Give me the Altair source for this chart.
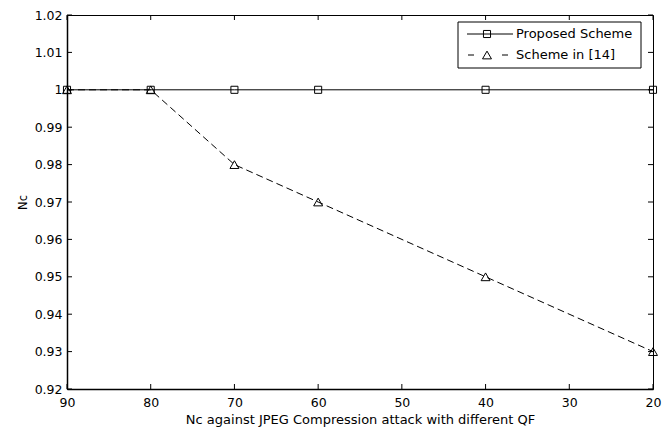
import altair as alt
import pandas as pd

qf = [90, 80, 70, 60, 40, 20]
proposed = [1.0, 1.0, 1.0, 1.0, 1.0, 1.0]
scheme14 = [1.0, 1.0, 0.98, 0.97, 0.95, 0.93]
x_ticks = [90, 80, 70, 60, 50, 40, 30, 20]
y_ticks = [0.92, 0.93, 0.94, 0.95, 0.96, 0.97, 0.98, 0.99, 1.0, 1.01, 1.02]
series_names = ["Proposed Scheme", "Scheme in [14]"]
x_title = "Nc against JPEG Compression attack with different QF"
y_title = "Nc"

FONT = "DejaVu Sans"
W, H = 586, 374

xs = alt.Scale(domain=[20, 90], reverse=True, nice=False, zero=False)
ys = alt.Scale(domain=[0.92, 1.02], nice=False, zero=False)

df_p = pd.DataFrame({"qf": qf, "nc": proposed})
df_s = pd.DataFrame({"qf": qf, "nc": scheme14})

x_axis = alt.Axis(values=x_ticks, tickSize=0, domain=True, domainColor="black",
                  domainWidth=1.5, grid=False,
                  labelPadding=7, title=x_title, titlePadding=5,
                  labelFontSize=12.5, titleFontSize=13, labelColor="black",
                  titleColor="black", titleFontWeight="normal",
                  labelFont=FONT, titleFont=FONT, labelFlush=False)
y_axis = alt.Axis(values=y_ticks, tickSize=0, domain=True, domainColor="black",
                  domainWidth=1.5, grid=False,
                  labelPadding=5, title=y_title, titlePadding=6,
                  labelFontSize=12.5, titleFontSize=11.5, labelColor="black",
                  titleColor="black", titleFontWeight="normal",
                  labelFont=FONT, titleFont=FONT, labelFlush=False,
                  labelExpr="datum.value == 1 ? '1' : format(datum.value, '.2f')")

X = alt.X("qf:Q", scale=xs, axis=x_axis)
Y = alt.Y("nc:Q", scale=ys, axis=y_axis)

line_p = alt.Chart(df_p).mark_line(color="black", strokeWidth=1).encode(x=X, y=Y)
pts_p = alt.Chart(df_p).mark_point(shape="square", size=50, filled=False,
                                   color="black", strokeWidth=1, opacity=1).encode(x=X, y=Y)
line_s = alt.Chart(df_s).mark_line(color="black", strokeWidth=1, strokeDash=[7, 4]).encode(x=X, y=Y)
pts_s = alt.Chart(df_s).mark_point(shape="triangle-up", size=80, filled=False,
                                   color="black", strokeWidth=1, opacity=1).encode(x=X, y=Y)

xt = pd.DataFrame({"qf": x_ticks})
yt = pd.DataFrame({"nc": y_ticks})
tick_b = alt.Chart(xt).mark_rule(color="black", strokeWidth=1).encode(
    x=X, y=alt.value(H), y2=alt.value(H - 5))
tick_t = alt.Chart(xt).mark_rule(color="black", strokeWidth=1).encode(
    x=X, y=alt.value(0), y2=alt.value(5))
tick_l = alt.Chart(yt).mark_rule(color="black", strokeWidth=1).encode(
    y=Y, x=alt.value(0), x2=alt.value(5))
tick_r = alt.Chart(yt).mark_rule(color="black", strokeWidth=1).encode(
    y=Y, x=alt.value(W), x2=alt.value(W - 5))

# legend
one = pd.DataFrame({"k": [0]})
leg_box = alt.Chart(one).mark_rect(fill="white", stroke="black", strokeWidth=1).encode(
    x=alt.value(391), x2=alt.value(574), y=alt.value(7), y2=alt.value(53))
leg_l1 = alt.Chart(one).mark_rule(color="black", strokeWidth=1).encode(
    x=alt.value(400), x2=alt.value(446), y=alt.value(19))
leg_p1 = alt.Chart(one).mark_point(shape="square", size=50, filled=False, color="black",
                                   strokeWidth=1, opacity=1).encode(
    x=alt.value(420), y=alt.value(19))
leg_l2a = alt.Chart(one).mark_rule(color="black", strokeWidth=1).encode(
    x=alt.value(401), x2=alt.value(407), y=alt.value(40))
leg_l2b = alt.Chart(one).mark_rule(color="black", strokeWidth=1).encode(
    x=alt.value(435), x2=alt.value(441), y=alt.value(40))
leg_p2 = alt.Chart(one).mark_point(shape="triangle-up", size=80, filled=False, color="black",
                                   strokeWidth=1, opacity=1).encode(
    x=alt.value(420), y=alt.value(40))
leg_t1 = alt.Chart(one).mark_text(
    align="left", baseline="middle", font=FONT, fontSize=13, color="black",
    text=series_names[0]).encode(x=alt.value(449), y=alt.value(19))
leg_t2 = alt.Chart(one).mark_text(
    align="left", baseline="middle", font=FONT, fontSize=13, color="black",
    text=series_names[1]).encode(x=alt.value(449), y=alt.value(40))

chart = alt.layer(
    line_p, line_s, pts_p, pts_s, tick_b, tick_t, tick_l, tick_r,
    leg_box, leg_l1, leg_p1, leg_l2a, leg_l2b, leg_p2, leg_t1, leg_t2,
).properties(
    width=W, height=H,
    padding={"left": 67, "top": 15, "right": 10, "bottom": 43},
    autosize=alt.AutoSizeParams(type="none"),
    background="white",
).configure_view(stroke="black", strokeWidth=1)

chart.save("out.html", embed_options={"renderer": "svg", "actions": False})
